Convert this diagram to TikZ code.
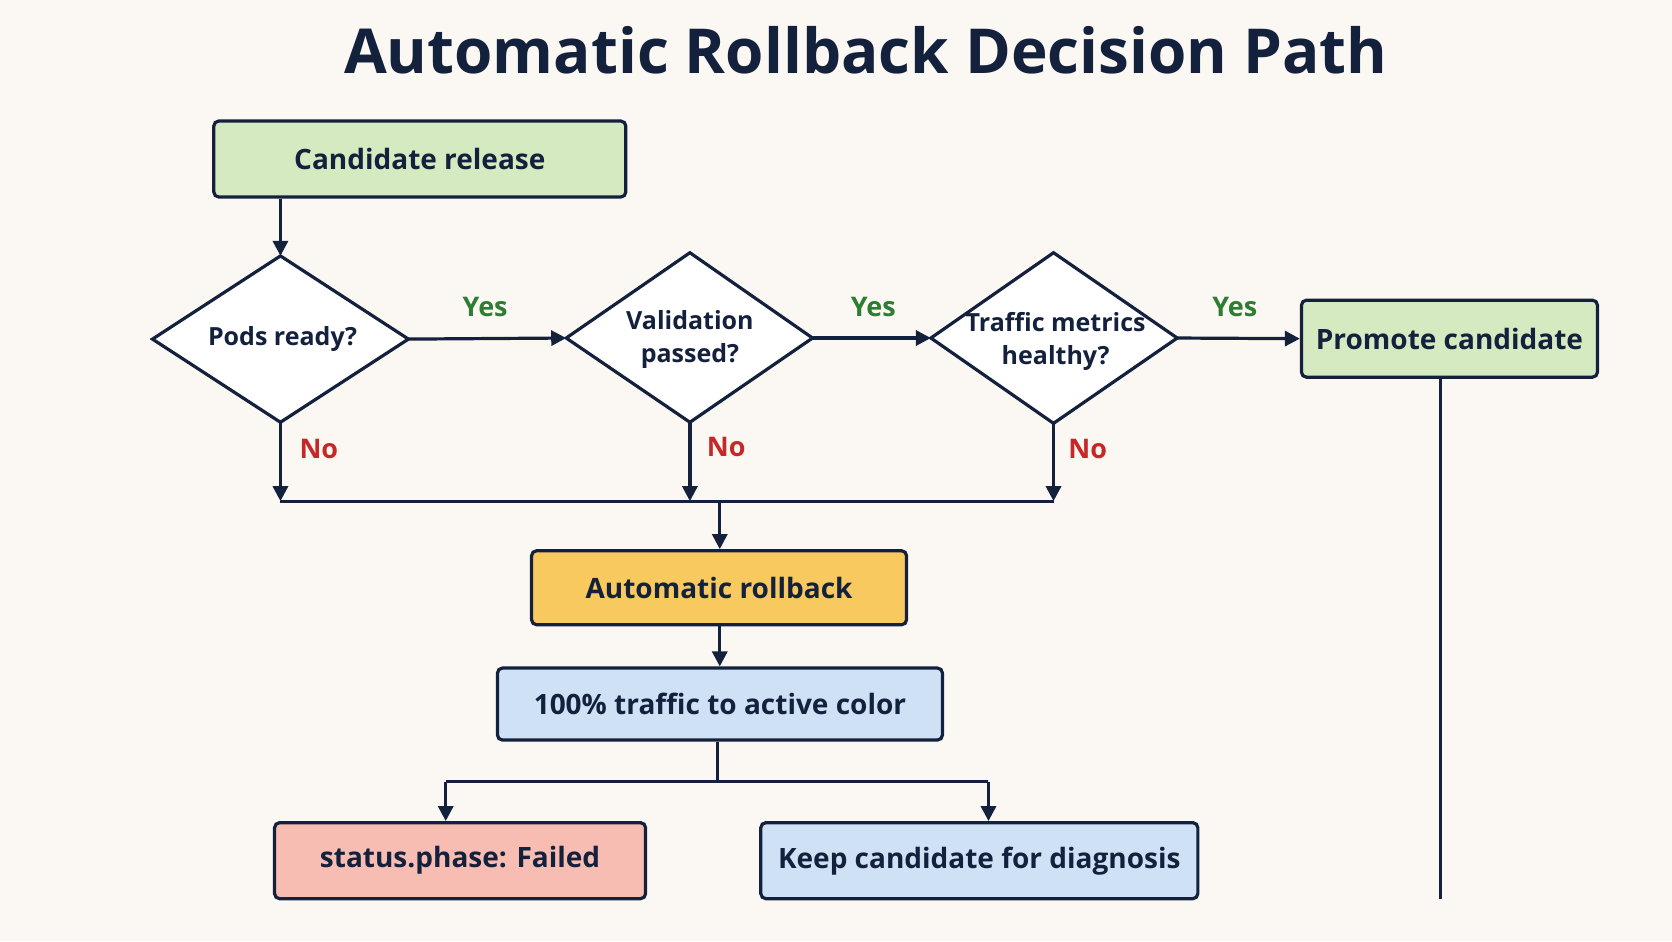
\documentclass[tikz,border=0pt]{standalone}
\usepackage{fontspec}
\setmainfont{Open Sans}
\usetikzlibrary{shapes.geometric,arrows.meta}
\definecolor{ink}{HTML}{14213D}
\definecolor{bg}{HTML}{FBF8F3}
\definecolor{gfill}{HTML}{D5EAC0}
\definecolor{ofill}{HTML}{F7C95F}
\definecolor{bfill}{HTML}{CFE2F5}
\definecolor{pfill}{HTML}{F7BDB3}
\definecolor{yes}{HTML}{2E7D32}
\definecolor{no}{HTML}{C62828}
\tikzset{
  box/.style={draw=ink,line width=3.2pt,rounded corners=5pt,inner sep=0pt,font=\fontsize{28}{32}\selectfont\bfseries,text=ink,anchor=north west},
  dtext/.style={text=ink,align=center,font=\fontsize{25}{33}\selectfont\bfseries},
  dshape/.style={draw=ink,line width=3.2pt,fill=white,line join=miter},
  conn/.style={draw=ink,line width=3.2pt},
  arr/.style={conn,-{Triangle[length=15pt,width=15pt]}},
  ylab/.style={text=yes,font=\fontsize{27}{30}\selectfont\bfseries},
  nlab/.style={text=no,font=\fontsize{27}{30}\selectfont\bfseries}
}
\begin{document}
\begin{tikzpicture}[x=1.0663pt,y=-1.0663pt]
\fill[bg] (0,0) rectangle (1568,882.5);
\useasboundingbox (0,0) rectangle (1568,882.5);
\node[text=ink,font=\fontsize{62}{68}\selectfont\bfseries] (title) at (812,47) {Automatic Rollback Decision Path};
\node[box,fill=gfill,minimum width=412pt,minimum height=76pt] (cand) at (199,112) {Candidate release};
% diamonds
\draw[dshape] (143,318) coordinate (d1w) -- (263,240) coordinate (d1n) -- (383,318) coordinate (d1e) -- (263,396) coordinate (d1s) -- cycle;
\node[dtext] (d1) at (265,318) {Pods ready?};
\draw[dshape] (531,317) coordinate (d2w) -- (647,237) coordinate (d2n) -- (762,317) coordinate (d2e) -- (647,396) coordinate (d2s) -- cycle;
\node[dtext] (d2) at (647,318) {Validation\\passed?};
\draw[dshape] (873,317) coordinate (d3w) -- (988,237) coordinate (d3n) -- (1104,317) coordinate (d3e) -- (988,397) coordinate (d3s) -- cycle;
\node[dtext] (d3) at (990,320) {Traffic metrics\\healthy?};
\node[box,fill=gfill,minimum width=296pt,minimum height=77pt] (prom) at (1219,280) {Promote candidate};
\node[box,fill=ofill,minimum width=375pt,minimum height=74pt] (rb) at (497,515) {Automatic rollback};
\node[box,fill=bfill,minimum width=445pt,minimum height=72pt] (tr) at (465,625) {100\% traffic to active color};
\node[box,fill=pfill,minimum width=371pt,minimum height=76pt] (st) at (256,770) {status.phase: Failed};
\node[box,fill=bfill,minimum width=437pt,minimum height=76pt] (keep) at (712,770) {Keep candidate for diagnosis};
\coordinate (m1) at (263,470);
\coordinate (m2) at (647,470);
\coordinate (m3) at (988,470);
\coordinate (mc) at (675,470);
\coordinate (sc) at (673,733);
\coordinate (s1) at (418,733);
\coordinate (s2) at (927,733);
\coordinate (pend) at (1351,843);
\draw[arr] (cand.south -| d1n) -- (d1n);
\draw[arr] (d1e) -- (d2w);
\draw[arr] (d2e) -- (d3w);
\draw[arr] (d3e) -- (prom.west);
\node[ylab] (y1) at (455,288) {Yes};
\node[ylab] (y2) at (819,288) {Yes};
\node[ylab] (y3) at (1158,288) {Yes};
\draw[arr] (d1s) -- (m1);
\draw[arr] (d2s) -- (m2);
\draw[arr] (d3s) -- (m3);
\node[nlab] (n1) at (299,421) {No};
\node[nlab] (n2) at (681,419) {No};
\node[nlab] (n3) at (1020,421) {No};
\draw[conn] (m1) -- (m3);
\draw[arr] (mc) -- (mc |- rb.north);
\draw[arr] (rb.south -| mc) -- (mc |- tr.north);
\draw[conn] (tr.south -| sc) -- (sc);
\draw[conn] (s1) -- (s2);
\draw[arr] (s1) -- (s1 |- st.north);
\draw[arr] (s2) -- (s2 |- keep.north);
\draw[conn] (prom.south -| pend) -- (pend);
\end{tikzpicture}
\end{document}
